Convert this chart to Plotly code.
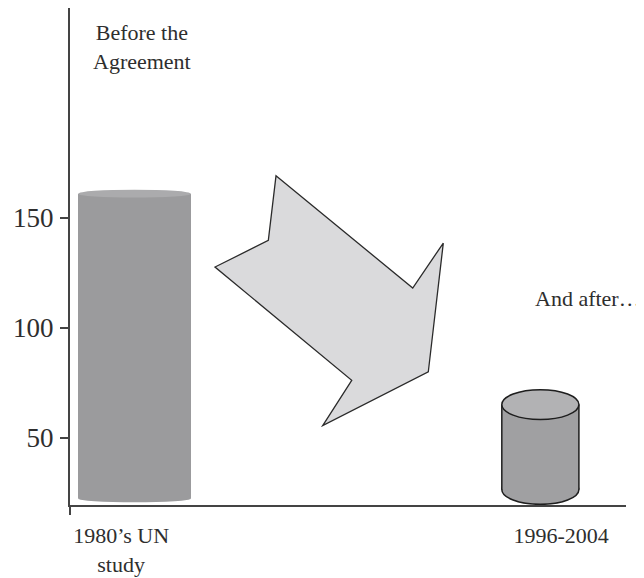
import plotly.graph_objects as go

# ---- data ----
categories = ["1980\u2019s UN<br>study", "1996-2004"]
bar_pos = [0, 1]
values = [161, 65]          # top of each cylinder
bases = [22.3, 26.4]        # bottom-centre of each cylinder body
y_ticks = [50, 100, 150]

# ---- style ----
bar_widths = [0.278, 0.19]
ell_half = [1.8, 6.8]       # half-height of end ellipses (y units)
body_colors = ["#9b9b9d", "#a0a0a2"]
top_colors = ["#ababad", "#b2b2b4"]
outlined = [False, True]
tick_label_pos = [-0.033, 1.051]
FONT = "Liberation Serif, Times New Roman, serif"
TXT = "#2e2e2e"
AX = "#444444"

fig = go.Figure()
fig.add_trace(go.Bar(
    x=bar_pos, y=[v - b for v, b in zip(values, bases)], base=bases,
    width=bar_widths, marker=dict(color=body_colors, line=dict(width=0)),
    hoverinfo="skip", showlegend=False))

shapes = []
for i in range(len(bar_pos)):
    c, w, h = bar_pos[i], bar_widths[i], ell_half[i]
    line = dict(color="#1e1e1e", width=1.5) if outlined[i] else dict(width=0)
    # bottom ellipse (below the body)
    shapes.append(dict(type="circle", xref="x", yref="y", layer="below",
                       x0=c - w / 2, x1=c + w / 2, y0=bases[i] - h, y1=bases[i] + h,
                       fillcolor=body_colors[i], line=line))
    if outlined[i]:
        for sx in (c - w / 2, c + w / 2):
            shapes.append(dict(type="line", xref="x", yref="y", layer="above",
                               x0=sx, x1=sx, y0=bases[i], y1=values[i], line=line))
    # top ellipse
    shapes.append(dict(type="circle", xref="x", yref="y", layer="above",
                       x0=c - w / 2, x1=c + w / 2, y0=values[i] - h, y1=values[i] + h,
                       fillcolor=top_colors[i], line=line))

# decorative arrow (paper coordinates)
arrow = [(0.3705, 0.6623), (0.3567, 0.5323), (0.2608, 0.4788), (0.5067, 0.2509),
         (0.4545, 0.1598), (0.6444, 0.2677), (0.6714, 0.5270), (0.6164, 0.4366)]
path = "M " + " L ".join(f"{x},{y}" for x, y in arrow) + " Z"
shapes.append(dict(type="path", xref="paper", yref="paper", path=path, layer="above",
                   fillcolor="#dadadc", line=dict(color="#2a2a2a", width=1.3)))
# y-axis stub below baseline
shapes.append(dict(type="line", xref="paper", yref="paper", x0=0, x1=0, y0=0, y1=-0.02,
                   line=dict(color=AX, width=2)))

annotations = [
    dict(x=0.018, y=227.7, xref="x", yref="y", text="Before the<br>Agreement",
         showarrow=False, font=dict(family=FONT, size=22, color=TXT)),
    dict(x=1.118, y=113.2, xref="x", yref="y", text="And after\u2026",
         showarrow=False, font=dict(family=FONT, size=22, color=TXT)),
]

# page body adds an 8px margin, so the figure is sized/offset to compensate
fig.update_layout(
    width=636, height=570, autosize=False,
    margin=dict(l=62, r=18, t=0, b=73, autoexpand=False),
    paper_bgcolor="white", plot_bgcolor="white",
    shapes=shapes, annotations=annotations, bargap=0,
    xaxis=dict(range=[-0.159, 1.211], showgrid=False, zeroline=False, automargin=False,
               showline=True, linecolor=AX, linewidth=2, ticks="",
               tickvals=tick_label_pos, ticktext=categories,
               tickfont=dict(family=FONT, size=22, color=TXT), ticklabelstandoff=10),
    yaxis=dict(range=[19.3, 245.5], showgrid=False, zeroline=False, automargin=False,
               showline=True, linecolor=AX, linewidth=2,
               ticks="outside", ticklen=8, tickwidth=2, tickcolor=AX,
               tickvals=y_ticks, tickfont=dict(family=FONT, size=27, color=TXT),
               ticklabelstandoff=1),
)

fig.write_html("out.html")
